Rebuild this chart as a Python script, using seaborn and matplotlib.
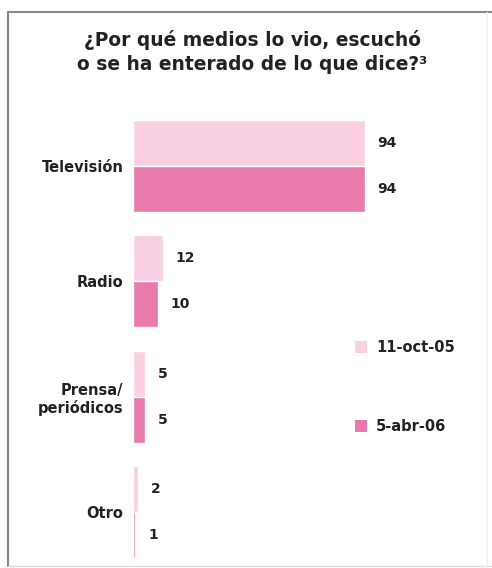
import matplotlib
matplotlib.use("Agg")
import matplotlib.pyplot as plt
import seaborn as sns
import pandas as pd
from matplotlib.patches import Patch
from matplotlib.lines import Line2D

categories = ["Televisión", "Radio", "Prensa/\nperiódicos", "Otro"]
series_names = ["11-oct-05", "5-abr-06"]
oct05 = [94, 12, 5, 2]
abr06 = [94, 10, 5, 1]
title = "¿Por qué medios lo vio, escuchó\no se ha enterado de lo que dice?³"

light = "#F8D0E1"
dark = "#E87BAB"

df = pd.DataFrame({
    "medio": categories * 2,
    "valor": oct05 + abr06,
    "fecha": [series_names[0]] * len(categories) + [series_names[1]] * len(categories),
})

sns.set_style("white")
plt.rcParams["font.family"] = ["DejaVu Sans"]

W, H = 492, 568
fig = plt.figure(figsize=(W / 100, H / 100), dpi=100)
ax_left, ax_right, ax_top, ax_bottom = 133, 480, 100, 560
ax = fig.add_axes([ax_left / W, 1 - ax_bottom / H, (ax_right - ax_left) / W, (ax_bottom - ax_top) / H])

sns.barplot(data=df, y="medio", x="valor", hue="fecha", orient="h",
            palette=[light, dark], width=0.8, saturation=1, ax=ax, legend=False)

px_per_unit = 232 / 94
ax.set_xlim(0, (ax_right - ax_left) / px_per_unit)
ypx = 115.33
ax.set_ylim(3 + (ax_bottom - 512) / ypx, -(166 - ax_top) / ypx)

for c in ax.containers:
    ax.bar_label(c, padding=9, fontsize=10, fontweight="bold", color="#222222")

for s in ax.spines.values():
    s.set_visible(False)
ax.set_xticks([])
ax.set_xlabel("")
ax.set_ylabel("")
ax.tick_params(axis="y", length=0, pad=7)
for t in ax.get_yticklabels():
    t.set_fontsize(10.5)
    t.set_fontweight("bold")
    t.set_color("#222222")
    t.set_horizontalalignment("right")
    t.set_multialignment("right")

handles = [Patch(facecolor=light, edgecolor="none"), Patch(facecolor=dark, edgecolor="none")]
fig.legend(handles, series_names, loc="upper left", bbox_to_anchor=(355 / W, 1 - 340 / H),
           frameon=False, handlelength=0.85, handleheight=0.85, handletextpad=0.6,
           labelspacing=4.4, borderpad=0, borderaxespad=0,
           prop={"size": 10.5, "weight": "bold"}, labelcolor="#222222")

fig.text(252 / W, 1 - 52 / H, title, ha="center", va="center", fontsize=13.4,
         fontweight="bold", color="#222222", linespacing=1.4)

# frame
fig.add_artist(Line2D([8 / W, 8 / W], [1 - 12 / H, 1 - 566 / H], color="#888888", lw=1.5, transform=fig.transFigure))
fig.add_artist(Line2D([8 / W, 1], [1 - 12 / H, 1 - 12 / H], color="#888888", lw=1.5, transform=fig.transFigure))
fig.add_artist(Line2D([8 / W, 1], [1 - 566 / H, 1 - 566 / H], color="#dddddd", lw=1, transform=fig.transFigure))
fig.add_artist(Line2D([487 / W, 487 / W], [1 - 12 / H, 1 - 566 / H], color="#eeeeee", lw=1, transform=fig.transFigure))

fig.savefig("out.png", dpi=100)
